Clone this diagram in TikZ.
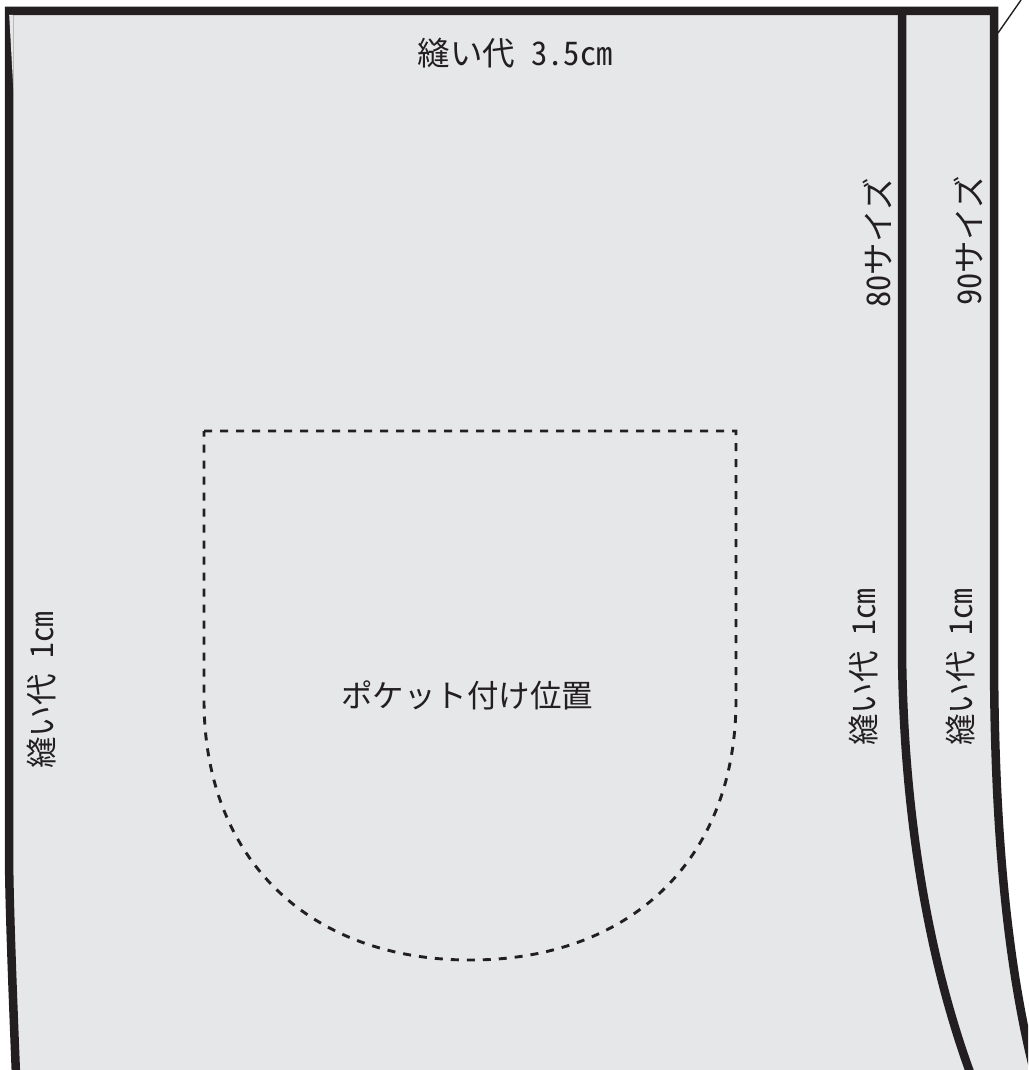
\documentclass[tikz,border=0pt]{standalone}
\usepackage{fontspec}
\setmainfont{Noto Sans CJK JP}[RawFeature={+hwid}]
\definecolor{ink}{HTML}{231F20}
\definecolor{cloth}{HTML}{E6E7E9}
\tikzset{
  outline/.style={draw=ink,line width=8.5pt,line join=miter},
  label/.style={text=ink,font=\fontsize{32.5}{32.5}\selectfont,inner sep=0pt,anchor=center},
  smalllabel/.style={label,font=\fontsize{31.5}{31.5}\selectfont},
  vlabel/.style={label,rotate=90},
  vsmalllabel/.style={smalllabel,rotate=90},
  pocket/.style={draw=ink,line width=2.9pt,dash pattern=on 8pt off 8pt}
}
\begin{document}
\begin{tikzpicture}[x=1pt,y=-1pt]
\useasboundingbox (0,0) rectangle (1028,1070);
\clip (0,0) rectangle (1028,1070);
\coordinate (tl) at (9,11);
\coordinate (tr) at (994,11);
\coordinate (tm) at (902,11);
\coordinate (ptrA) at (998,33);
\coordinate (ptrB) at (1021,0);
% cloth
\fill[cloth] (tl) -- (tr) -- (994,650) .. controls (994,800) and (1003,950) .. (1035,1075)
  -- (16,1075) .. controls (13,1000) and (9,900) .. (9,850) -- cycle;
% outline
\draw[outline] (16,1075) .. controls (13,1000) and (9,900) .. (9,850) -- (tl) -- (tr)
  -- (994,650) .. controls (994,800) and (1003,950) .. (1035,1075);
\draw[outline] (tm) -- (902,650) .. controls (903,800) and (925,950) .. (971,1075);
% taper at the top left
\fill[cloth] (9.2,15) -- (13.4,90) -- (13.4,15) -- cycle;
\draw[ink,line width=1.4pt] (ptrA) -- (ptrB);
% pocket
\draw[pocket] (204,431) -- (736,431) -- (736,700)
  .. controls (736,860) and (630,960) .. (470,960)
  .. controls (310,960) and (204,860) .. (204,700) -- cycle;
% labels
\node[label] (top) at (515,53) {縫い代 3.5cm};
\node[smalllabel] (pk) at (467,695) {ポケット付け位置};
\node[vlabel] (s80) at (877,243) {80サイズ};
\node[vlabel] (s90) at (968,241) {90サイズ};
\node[vsmalllabel] (l1) at (42,690) {縫い代 1cm};
\node[vsmalllabel] (l2) at (864,667) {縫い代 1cm};
\node[vsmalllabel] (l3) at (960,667) {縫い代 1cm};
\end{tikzpicture}
\end{document}
